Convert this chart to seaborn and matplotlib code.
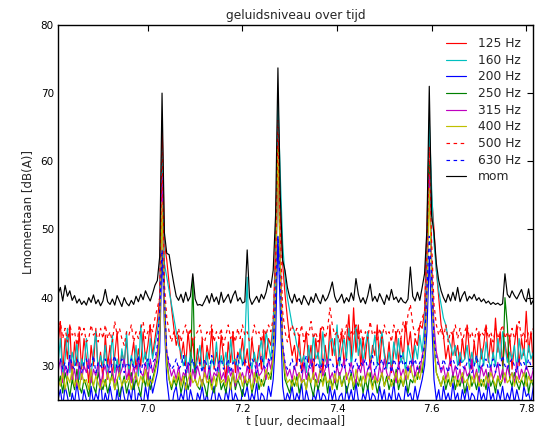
import numpy as np
import pandas as pd
import matplotlib
matplotlib.use('Agg')
import matplotlib.pyplot as plt
import seaborn as sns

# sample grid: 6.81 .. 7.815 uur, one value per 0.005 h
t_start = 6.81
t_step = 0.005

hz125 = [
    33, 36.5, 29, 34, 31, 36, 28, 33.5, 30, 35,
    29.5, 34, 31, 27.5, 33, 30, 35.5, 29, 32, 28,
    34.5, 30, 33, 28.5, 31.5, 35, 29, 32, 30.5, 34,
    28, 31, 33.5, 29.5, 32.5, 30, 35, 31, 33, 36,
    31.5, 34, 36.5, 40, 66, 48, 45.5, 42, 38.5, 35.5,
    33, 34.5, 31, 33.5, 30, 35, 31.5, 34, 29, 32.5,
    30, 34, 28.5, 33, 31, 35.5, 29.5, 32, 30, 34.5,
    31, 28, 33.5, 30.5, 35, 29, 32, 31, 34, 30,
    32.5, 29, 34, 31, 30, 33, 29.5, 35, 31, 34,
    33, 36, 48, 65, 52, 45, 40.5, 37, 34, 31.5,
    33, 30, 34.5, 29, 32, 35, 30.5, 33, 28.5, 34,
    31, 35.5, 29, 33, 30, 36, 31.5, 34, 29.5, 32,
    35, 30, 33.5, 37.5, 31, 38.5, 32, 36, 30, 34,
    31, 35, 29.5, 33, 31.5, 36, 30, 34.5, 32, 30,
    33.5, 29, 32, 35, 30.5, 34, 31, 36.5, 32.5, 35,
    31, 34, 33, 36, 35.5, 38, 50, 64, 55, 50,
    44, 40, 36, 34.5, 31, 33, 30, 35, 31.5, 33,
    30, 34, 31, 36, 32, 29.5, 33.5, 30.5, 35, 31,
    33, 36, 30.5, 34, 31, 37, 32, 35, 30, 33.5,
    31, 34.5, 29.5, 33, 36, 30, 34, 31.5, 38, 32,
    35, 30,
]

hz160 = [
    30, 34, 28.5, 31, 35.5, 29, 32, 30, 33.5, 28,
    31, 29.5, 34, 30, 28.5, 32, 35, 29, 31.5, 30,
    33, 28.5, 30.5, 34.5, 29, 31, 28, 32.5, 30, 35,
    29, 31.5, 30, 33, 28.5, 36, 30.5, 32, 29.5, 34,
    31, 33, 35, 38, 62, 45, 43, 41, 39, 37,
    35, 33, 32, 30, 31.5, 29, 32, 30.5, 29, 31,
    33, 29.5, 30, 32, 28.5, 31, 30, 33.5, 29, 31.5,
    30, 32, 29, 34, 30.5, 31, 29.5, 32.5, 30, 33,
    43, 31, 29.5, 32, 30, 31.5, 34, 30, 35, 33,
    31, 36, 45, 69, 58, 48, 43, 40, 38, 36,
    35, 33, 32, 30.5, 31.5, 29, 33, 30, 34.5, 31,
    32, 29.5, 35, 31, 30, 33.5, 34, 31.5, 36, 30,
    32.5, 34, 31, 35.5, 30, 33, 36, 31.5, 34, 30.5,
    33, 35, 31, 32, 34.5, 30, 33, 35, 31.5, 29.5,
    32, 30, 33.5, 31, 34, 30.5, 32, 29, 33, 31.5,
    30, 33, 31, 34.5, 32, 36, 46, 66, 56, 48,
    44, 41, 39, 37, 36, 34, 33, 31.5, 33, 30,
    32, 30.5, 31, 33, 29.5, 32, 30, 31.5, 29, 32.5,
    30, 33.5, 31, 29.5, 32, 30, 34, 31, 35, 33,
    30.5, 32, 31, 33, 29.5, 34, 31, 32.5, 30, 33,
    31, 32,
]

hz200 = [
    25, 26.5, 24, 27, 25.5, 23.5, 26, 24.5, 27.5, 25,
    24, 26.5, 25, 23.5, 27, 24.5, 26, 25, 28, 24,
    26, 24.5, 27, 25, 23.5, 26.5, 24, 27.5, 25.5, 24,
    26.5, 25, 28, 24, 26, 25.5, 24, 27, 25, 28.5,
    26, 27.5, 29, 32, 47, 36, 28, 25, 23.5, 26,
    27, 24.5, 26, 25, 27.5, 24, 26.5, 25, 23.5, 26,
    25, 27, 24.5, 26, 23.5, 25.5, 27, 24, 26, 25,
    24, 26.5, 25, 27.5, 24.5, 26, 25, 23.5, 26.5, 25.5,
    27, 24.5, 26, 25, 27.5, 24, 26, 25.5, 24, 27,
    25.5, 28, 34, 49, 38, 27, 24.5, 26, 25, 27,
    24.5, 26, 25, 27.5, 24, 26.5, 25, 23.5, 26, 25,
    27, 24.5, 26, 25.5, 24, 27, 25, 26.5, 24, 25.5,
    26, 24, 27, 25, 26.5, 24.5, 27.5, 25, 24, 26,
    25, 27, 24.5, 26, 25.5, 24, 27, 25, 26.5, 24,
    26, 25, 27.5, 24.5, 26, 25, 24, 27, 25.5, 26,
    24.5, 27, 25, 26.5, 28, 30, 35, 46, 37, 28,
    25, 26.5, 24, 27, 25, 26, 24.5, 27.5, 25, 26,
    24, 26.5, 25, 27, 24.5, 26, 25.5, 24, 27, 25,
    26, 24.5, 27.5, 25, 26, 24, 26.5, 25, 27, 24.5,
    26, 25, 27, 24.5, 26.5, 25, 24, 27, 25.5, 26,
    24.5, 27,
]

hz250 = [
    27, 28.5, 26, 29, 27.5, 25.5, 28, 26.5, 29.5, 27,
    26, 28, 27, 25.5, 28.5, 27, 26, 29, 27.5, 26.5,
    28, 26, 27.5, 29, 26.5, 28, 25.5, 27, 28.5, 26,
    27.5, 29, 26.5, 28, 27, 25.5, 28.5, 27, 29, 26.5,
    28, 29.5, 31, 35, 57, 40, 31, 28, 26.5, 28,
    27, 28.5, 26, 27.5, 29, 26.5, 28, 43, 28, 27,
    26.5, 28, 27, 25.5, 28.5, 27, 26, 28, 29, 26.5,
    27.5, 26, 28.5, 27, 29, 26.5, 28, 27, 25.5, 28,
    27, 28.5, 26, 27.5, 29, 26.5, 28, 27, 28.5, 29,
    28, 31, 40, 62, 44, 32, 28, 27, 26, 28,
    27, 28.5, 26, 27.5, 28, 26.5, 29, 27, 25.5, 28,
    26.5, 28, 27.5, 29, 26, 28.5, 27, 28, 26.5, 29,
    27, 28.5, 26, 27.5, 29, 26.5, 28, 27, 28.5, 26,
    28, 26.5, 29, 27, 28, 26, 27.5, 29, 27, 28.5,
    26.5, 28, 27, 29.5, 26.5, 28, 27, 28.5, 26, 28,
    27.5, 29, 28, 30, 29, 32, 42, 60, 45, 33,
    29, 28, 27, 28.5, 26.5, 28, 27, 29, 26.5, 28,
    27, 28.5, 26, 27.5, 29, 27, 28, 26.5, 28.5, 27,
    28, 26.5, 29, 27, 28, 26, 28.5, 27, 28, 40,
    36, 28, 27, 29, 27.5, 26.5, 28, 27, 29, 26,
    28, 27,
]

hz315 = [
    29, 31, 27.5, 30, 28.5, 31.5, 28, 29.5, 27, 30.5,
    28, 30, 29, 31, 27.5, 29.5, 28.5, 30.5, 27, 29,
    30, 28, 31, 29, 27.5, 30, 28.5, 29.5, 31, 28,
    29.5, 27.5, 30, 28, 31, 29, 28.5, 30.5, 28, 31,
    29, 30.5, 32, 36, 58, 38, 32, 30, 28.5, 29.5,
    28, 30, 27.5, 29, 28.5, 30.5, 27, 29.5, 28, 30,
    28.5, 27, 29.5, 28, 30, 27.5, 29, 28.5, 30.5, 28,
    29, 27.5, 30, 28.5, 29.5, 27, 30, 28, 29, 27.5,
    30, 28, 29.5, 27.5, 30.5, 28.5, 29, 30, 28, 31,
    29.5, 32, 42, 61, 46, 33, 30, 28.5, 29.5, 28,
    30, 28.5, 29, 27.5, 30.5, 28, 29.5, 31, 28, 29,
    27.5, 30, 28.5, 29.5, 31, 28, 29, 27.5, 30, 28.5,
    29.5, 31, 28, 29, 30.5, 28.5, 27.5, 30, 29, 31,
    28, 29.5, 30.5, 28, 29, 27.5, 30, 28.5, 31, 29,
    28, 30, 29, 27.5, 30.5, 28.5, 29.5, 28, 30, 29,
    31, 28.5, 30, 29, 31.5, 33, 43, 58, 45, 36,
    32, 30.5, 29, 30, 28, 29.5, 31, 28.5, 30, 28,
    29.5, 27.5, 30, 28.5, 29, 31, 28, 29.5, 27.5, 30,
    28.5, 29.5, 27, 30, 28, 29, 30.5, 28, 29.5, 27.5,
    30, 28.5, 29, 27.5, 30.5, 28, 29.5, 28.5, 30, 29,
    28, 29.5,
]

hz400 = [
    28, 27, 29, 26.5, 28.5, 27.5, 29.5, 27, 28, 26.5,
    29, 27.5, 28, 26.5, 29.5, 27, 28.5, 27.5, 26.5, 28,
    27, 29, 27.5, 28.5, 26.5, 28, 29, 27, 28, 27.5,
    28.5, 26.5, 28, 29, 27, 28.5, 27.5, 29.5, 27, 28,
    27.5, 29, 30.5, 34, 54, 37, 30, 28, 27, 28.5,
    27.5, 29, 27, 28.5, 26.5, 28, 29, 27.5, 28, 27,
    28.5, 27, 29, 27.5, 28, 26.5, 28.5, 27, 29, 27.5,
    28, 27, 28.5, 26.5, 29, 27.5, 28, 29, 27, 28.5,
    27.5, 28, 26.5, 29, 27.5, 28.5, 27, 28, 29.5, 28,
    29, 31, 41, 62, 45, 32, 29, 27.5, 28, 27,
    28.5, 27, 29, 27.5, 28, 26.5, 28.5, 27.5, 29, 27,
    28, 29.5, 27, 28.5, 27.5, 28, 26.5, 29, 27.5, 28.5,
    27, 28, 29, 27.5, 28.5, 27, 29.5, 28, 27, 28.5,
    27.5, 29, 28, 26.5, 28.5, 27.5, 28, 29, 27, 28,
    28.5, 27, 28, 29, 27.5, 28.5, 27, 29.5, 28, 30,
    28.5, 27.5, 29, 28, 30, 31.5, 40, 56, 43, 33,
    29, 28, 27, 28.5, 27.5, 29, 27, 28, 28.5, 27,
    28, 29, 27.5, 28, 26.5, 28.5, 27.5, 29, 27, 28,
    27, 28.5, 27.5, 29, 28, 27, 28.5, 27.5, 28, 29,
    27.5, 28, 29, 27, 28.5, 27.5, 28, 29, 27, 28.5,
    27.5, 28,
]

hz500 = [
    35, 36.5, 34, 35.5, 33.5, 36, 34.5, 35, 33, 36,
    34.5, 35.5, 33.5, 34, 36, 34.5, 35, 33.5, 35.5, 34,
    36, 34, 35, 33.5, 36.5, 34.5, 35.5, 34, 33, 35,
    34.5, 36, 33.5, 35, 34, 35.5, 36.5, 34, 35, 36,
    35, 37, 38.5, 40, 63, 42, 37, 35, 33.5, 35,
    34, 35.5, 33.5, 35, 36, 34, 35.5, 33, 34.5, 35,
    36, 34, 33.5, 35, 34.5, 36, 33.5, 35, 34, 35.5,
    33, 34.5, 36, 34, 35, 33.5, 35.5, 34, 36, 34.5,
    35, 33.5, 34, 36, 34.5, 35, 33.5, 35.5, 34.5, 36,
    35, 37, 45, 66, 50, 38, 35, 33.5, 35, 36,
    34.5, 35.5, 34, 36, 33.5, 35, 34.5, 36.5, 34, 35,
    33.5, 35, 36, 34, 35.5, 38.5, 36, 34.5, 35, 33.5,
    35.5, 34, 36, 33.5, 35, 34.5, 36, 34, 35.5, 33.5,
    35, 34, 36.5, 34.5, 35, 33.5, 35.5, 34, 36, 34.5,
    35, 33.5, 36, 34.5, 35.5, 34, 36.5, 35, 37.5, 39,
    36, 34.5, 35, 36, 37, 38, 47, 62, 48, 39,
    36, 34.5, 35.5, 34, 36, 33.5, 35, 34.5, 36, 34,
    35.5, 33.5, 35, 36, 34, 35, 33.5, 35.5, 34, 35,
    34.5, 36, 34, 35, 33.5, 35.5, 34, 35, 36, 34,
    35, 33.5, 35.5, 34, 35, 36.5, 34, 35, 33.5, 35,
    34.5, 35.5,
]

hz630 = [
    30, 31, 29.5, 30.5, 29, 31.5, 30, 29.5, 31, 30,
    29, 30.5, 31, 29.5, 30, 31.5, 29, 30.5, 30, 29.5,
    31, 30, 29, 30.5, 31.5, 29.5, 30, 31, 29, 30.5,
    30, 31, 29.5, 30, 31.5, 29, 30.5, 30, 31, 29.5,
    30.5, 31, 33, 38, 47, 40, 32, 30.5, 29.5, 30,
    31, 29.5, 30, 31.5, 29, 30.5, 30, 31, 29.5, 30,
    30.5, 29, 31, 30, 29.5, 31.5, 30, 29, 30.5, 31,
    29.5, 30, 31, 29, 30.5, 30, 31.5, 29.5, 30, 31,
    30, 29.5, 31, 30.5, 29, 30, 31.5, 30, 29.5, 31,
    30.5, 33, 40, 49, 42, 33, 30.5, 29.5, 30, 31,
    29.5, 30.5, 31, 29, 30, 31.5, 30, 29.5, 31, 30,
    30.5, 29, 31, 30, 29.5, 31, 30.5, 29, 30, 31.5,
    30, 29.5, 31, 30.5, 29, 30, 31, 29.5, 30.5, 30,
    31, 29.5, 30, 31.5, 29, 30.5, 30, 31, 29.5, 30,
    30.5, 29, 31, 30, 29.5, 31.5, 30, 30.5, 29, 31,
    30, 31, 29.5, 30.5, 31, 33, 41, 49, 43, 34,
    31, 30, 29.5, 31, 30, 29, 30.5, 31, 30, 29.5,
    31, 30, 29.5, 30.5, 31, 29, 30, 31.5, 30, 29.5,
    30.5, 31, 29.5, 30, 31, 29, 30.5, 30, 31.5, 30,
    29.5, 30.5, 31, 30, 29, 31, 30, 30.5, 29.5, 31,
    30, 29.5,
]

mom = [
    40.5, 41.5, 39.5, 41.8, 40.2, 41.0, 39.6, 40.3, 39.2, 39.8,
    39.0, 39.5, 38.9, 40.0, 39.3, 40.4, 39.1, 39.7, 38.8, 39.5,
    41.2, 39.4, 39.0, 39.8, 38.9, 40.3, 39.5, 38.7, 40.0, 39.2,
    38.8, 39.6, 39.0, 40.2, 39.4, 40.5, 39.7, 41.0, 40.2, 39.5,
    40.6, 41.8, 42.5, 46.0, 70.0, 49.5, 46.5, 46.3, 44.0, 42.0,
    40.2, 39.6, 40.5, 39.3, 40.8, 39.5, 40.2, 43.5, 39.8, 38.9,
    39.0, 38.8, 39.5, 40.3, 39.2, 40.6, 39.4, 40.1, 39.0, 40.8,
    39.3, 39.9, 40.5, 39.2, 40.3, 41.0, 39.5, 40.0, 39.2, 39.4,
    47.0, 40.0, 39.0, 39.6, 40.2, 39.3, 40.5, 39.8, 40.8, 42.5,
    41.5, 44.0, 52.0, 73.7, 55.0, 45.5, 44.0, 41.5, 40.0, 39.2,
    40.5, 39.4, 39.9, 39.0, 40.3, 39.6, 38.9, 40.1, 39.3, 40.6,
    39.7, 39.1, 40.4, 39.5, 40.0, 41.0, 42.3, 40.2, 39.3, 39.8,
    40.5, 39.2, 40.0, 39.4, 40.7, 39.6, 42.8, 40.5, 39.3, 40.0,
    39.1, 40.3, 42.0, 39.5, 40.2, 39.4, 40.6, 39.8, 39.0, 40.4,
    39.6, 41.2, 39.7, 40.1, 39.3, 40.0, 39.4, 39.2, 39.8, 44.5,
    40.2, 39.5, 40.8, 39.6, 41.5, 43.5, 50.0, 71.0, 52.0, 49.5,
    45.0, 42.5, 41.0, 40.0, 39.3, 40.5, 39.5, 40.8, 39.6, 41.5,
    39.4, 40.3, 40.9, 39.5, 40.2, 39.8, 40.5, 39.6, 40.0, 39.4,
    39.8, 39.2, 39.5, 39.0, 39.3, 39.0, 39.2, 38.9, 39.1, 43.5,
    40.5, 40.0, 41.0, 40.3, 39.8, 40.5, 41.2, 40.0, 39.4, 41.3,
    39.0, 39.6,
]

bands = ['125 Hz', '160 Hz', '200 Hz', '250 Hz', '315 Hz',
         '400 Hz', '500 Hz', '630 Hz', 'mom']
series = [hz125, hz160, hz200, hz250, hz315, hz400, hz500, hz630, mom]

t = np.round(t_start + t_step * np.arange(len(mom)), 3)

df = pd.concat(
    [pd.DataFrame({'t': t, 'L': s, 'band': b}) for b, s in zip(bands, series)],
    ignore_index=True
)

# old matplotlib colour letters r c b g m y
palette = {
    '125 Hz': (1.0, 0.0, 0.0),
    '160 Hz': (0.0, 0.75, 0.75),
    '200 Hz': (0.0, 0.0, 1.0),
    '250 Hz': (0.0, 0.5, 0.0),
    '315 Hz': (0.75, 0.0, 0.75),
    '400 Hz': (0.75, 0.75, 0.0),
    '500 Hz': (1.0, 0.0, 0.0),
    '630 Hz': (0.0, 0.0, 1.0),
    'mom': (0.0, 0.0, 0.0),
}
dashes = {b: '' for b in bands}
dashes['500 Hz'] = (3, 3)
dashes['630 Hz'] = (3, 3)

sns.set_style('white')
plt.rcParams['font.family'] = ['DejaVu Sans']
plt.rcParams['axes.edgecolor'] = 'black'
plt.rcParams['axes.linewidth'] = 1.0

fig, ax = plt.subplots(figsize=(5.42, 4.30), dpi=100)
fig.subplots_adjust(left=0.107, right=0.984, bottom=0.07, top=0.942)

sns.lineplot(data=df, x='t', y='L', hue='band', style='band',
             palette=palette, dashes=dashes, estimator=None,
             linewidth=0.85, ax=ax)

ax.set_xlim(t[0], t[-1])
ax.set_ylim(25, 80)
ax.set_xticks([7.0, 7.2, 7.4, 7.6, 7.8])
ax.set_yticks([30, 40, 50, 60, 70, 80])
ax.tick_params(direction='in', top=True, right=True, length=4,
               width=0.8, labelsize=7.5, colors='black', pad=3)

ax.set_title('geluidsniveau over tijd', fontsize=8.8, pad=4)
ax.set_xlabel('t [uur, decimaal]', fontsize=8.5, labelpad=0.5)
ax.set_ylabel('Lmomentaan [dB(A)]', fontsize=8.5, labelpad=4)

sns.move_legend(ax, 'upper right', title=None, frameon=False,
                fontsize=8.8, labelspacing=0.3, handlelength=1.6,
                handletextpad=1.0, borderaxespad=0.6)

fig.savefig('out.png', dpi=100)
